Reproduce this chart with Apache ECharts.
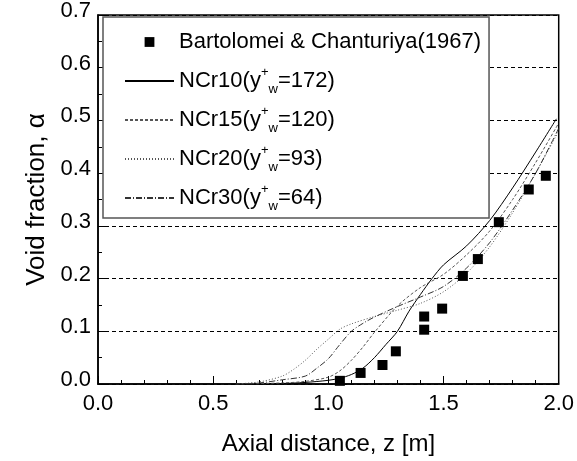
<!DOCTYPE html>
<html>
<head>
<meta charset="utf-8">
<script src="https://cdn.jsdelivr.net/npm/echarts@6/dist/echarts.min.js"></script>
<style>html,body{margin:0;padding:0;background:#fff;}#c{width:577px;height:461px;}</style>
</head>
<body>
<div id="c"></div>
<script>
// ---- data ----
var expName = 'Bartolomei & Chanturiya(1967)';
var expX = [1.05, 1.14, 1.235, 1.293, 1.416, 1.416, 1.494, 1.584, 1.649, 1.740, 1.870, 1.944];
var expY = [0.006, 0.021, 0.036, 0.062, 0.103, 0.128, 0.143, 0.205, 0.237, 0.307, 0.369, 0.395];

var ncr10X = [0.6, 0.8, 0.9, 1.0, 1.05, 1.1, 1.15, 1.2, 1.25, 1.3, 1.35, 1.4, 1.45, 1.5, 1.6, 1.7, 1.8, 1.9, 1.99];
var ncr10Y = [0, 0.001, 0.003, 0.007, 0.011, 0.018, 0.03, 0.05, 0.075, 0.1, 0.138, 0.17, 0.2, 0.226, 0.262, 0.31, 0.372, 0.44, 0.503];

var ncr15X = [0.6, 0.8, 0.9, 1.0, 1.05, 1.1, 1.15, 1.2, 1.3, 1.4, 1.5, 1.6, 1.7, 1.8, 1.9, 2.0];
var ncr15Y = [0, 0.002, 0.005, 0.013, 0.025, 0.045, 0.07, 0.098, 0.148, 0.183, 0.208, 0.245, 0.29, 0.35, 0.42, 0.495];

var ncr20X = [0.6, 0.7, 0.8, 0.85, 0.9, 0.95, 1.0, 1.05, 1.1, 1.2, 1.3, 1.4, 1.5, 1.6, 1.7, 1.8, 1.9, 2.0];
var ncr20Y = [0, 0.004, 0.015, 0.028, 0.045, 0.066, 0.085, 0.104, 0.114, 0.128, 0.14, 0.153, 0.175, 0.21, 0.26, 0.325, 0.4, 0.48];

var ncr30X = [0.6, 0.7, 0.8, 0.9, 0.95, 1.0, 1.05, 1.1, 1.15, 1.2, 1.3, 1.4, 1.5, 1.6, 1.7, 1.8, 1.9, 2.0];
var ncr30Y = [0, 0.002, 0.008, 0.015, 0.03, 0.048, 0.075, 0.1, 0.115, 0.127, 0.147, 0.165, 0.185, 0.22, 0.268, 0.33, 0.4, 0.485];

var modelNames = ['NCr10', 'NCr15', 'NCr20', 'NCr30'];
var yPlus = ['172', '120', '93', '64'];

// ---- build ----
function pairs(xs, ys) { return xs.map(function (x, i) { return [x, ys[i]]; }); }

var FONT = 'Liberation Sans, Arial, sans-serif';
var lineStyles = [
  { color: '#000', width: 1, type: 'solid' },
  { color: '#555', width: 1, type: [3, 2] },
  { color: '#555', width: 1, type: [1, 2] },
  { color: '#333', width: 1, type: [6, 2, 1, 2] }
];
var modelData = [pairs(ncr10X, ncr10Y), pairs(ncr15X, ncr15Y), pairs(ncr20X, ncr20Y), pairs(ncr30X, ncr30Y)];

var series = [{
  name: expName,
  type: 'scatter',
  symbol: 'rect',
  symbolSize: 10,
  symbolKeepAspect: true,
  itemStyle: { color: '#000', opacity: 1 },
  data: pairs(expX, expY),
  z: 5
}];
modelNames.forEach(function (n, i) {
  series.push({
    name: n,
    type: 'line',
    symbol: 'none',
    smooth: 0.3,
    lineStyle: lineStyles[i],
    itemStyle: { color: lineStyles[i].color },
    data: modelData[i],
    z: 3
  });
});

var legendData = [{ name: expName, icon: 'path://M0,0 L0,0 M20,0 L30,0 L30,10 L20,10 Z M50,10 L50,10', itemStyle: { color: '#000', opacity: 1 } }].concat(
  modelNames.map(function (n) {
    return { name: n, itemStyle: { color: 'rgba(0,0,0,0)', borderWidth: 0, opacity: 0 } };
  })
);

var chart = echarts.init(document.getElementById('c'), null, { renderer: 'canvas' });
chart.setOption({
  animation: false,
  backgroundColor: '#fff',
  grid: { left: 98, right: 17, top: 13, bottom: 76, show: true, borderColor: '#000', borderWidth: 1.5, backgroundColor: 'transparent' },
  legend: {
    orient: 'vertical',
    left: 103, top: 17,
    backgroundColor: '#fff',
    borderColor: '#555', borderWidth: 1.5, borderRadius: 0,
    padding: [10, 8, 5, 21],
    itemWidth: 49, itemHeight: 11, itemGap: 9,
    symbolKeepAspect: true,
    data: legendData,
    formatter: function (n) {
      var i = modelNames.indexOf(n);
      if (i < 0) return n;
      return n + '(y{sup|+}{sub|w}=' + yPlus[i] + ')';
    },
    textStyle: {
      fontFamily: FONT, fontSize: 22, color: '#000', lineHeight: 30,
      rich: {
        sup: { fontFamily: FONT, fontSize: 13, color: '#000', lineHeight: 16, verticalAlign: 'top' },
        sub: { fontFamily: FONT, fontSize: 13, color: '#000', lineHeight: 14, verticalAlign: 'bottom' }
      }
    }
  },
  xAxis: {
    type: 'value', min: 0, max: 2, interval: 0.5,
    name: 'Axial distance, z [m]', nameLocation: 'middle', nameGap: 48,
    nameTextStyle: { fontFamily: FONT, fontSize: 24, color: '#000' },
    axisLine: { show: true, lineStyle: { color: '#000', width: 1.5 } },
    axisTick: { show: true, inside: true, length: 8, lineStyle: { color: '#000', width: 1 } },
    minorTick: { show: true, splitNumber: 5, length: 4, lineStyle: { color: '#000', width: 1 } },
    axisLabel: { fontFamily: FONT, fontSize: 22, color: '#000', margin: 9, formatter: function (v) { return v.toFixed(1); } },
    splitLine: { show: false }
  },
  yAxis: {
    type: 'value', min: 0, max: 0.7, interval: 0.1,
    name: 'Void fraction, \u03b1', nameLocation: 'middle', nameGap: 46,
    nameTextStyle: { fontFamily: FONT, fontSize: 26, color: '#000' },
    axisLine: { show: true, lineStyle: { color: '#000', width: 1.5 } },
    axisTick: { show: true, inside: true, length: 8, lineStyle: { color: '#000', width: 1 } },
    minorTick: { show: true, splitNumber: 2, length: 4, lineStyle: { color: '#000', width: 1 } },
    axisLabel: { fontFamily: FONT, fontSize: 22, color: '#000', margin: 7, lineHeight: 8, verticalAlign: 'bottom', formatter: function (v) { return v.toFixed(1); } },
    splitLine: { show: true, lineStyle: { color: '#000', width: 1, type: [4, 3] } }
  },
  series: series
});
</script>
</body>
</html>
